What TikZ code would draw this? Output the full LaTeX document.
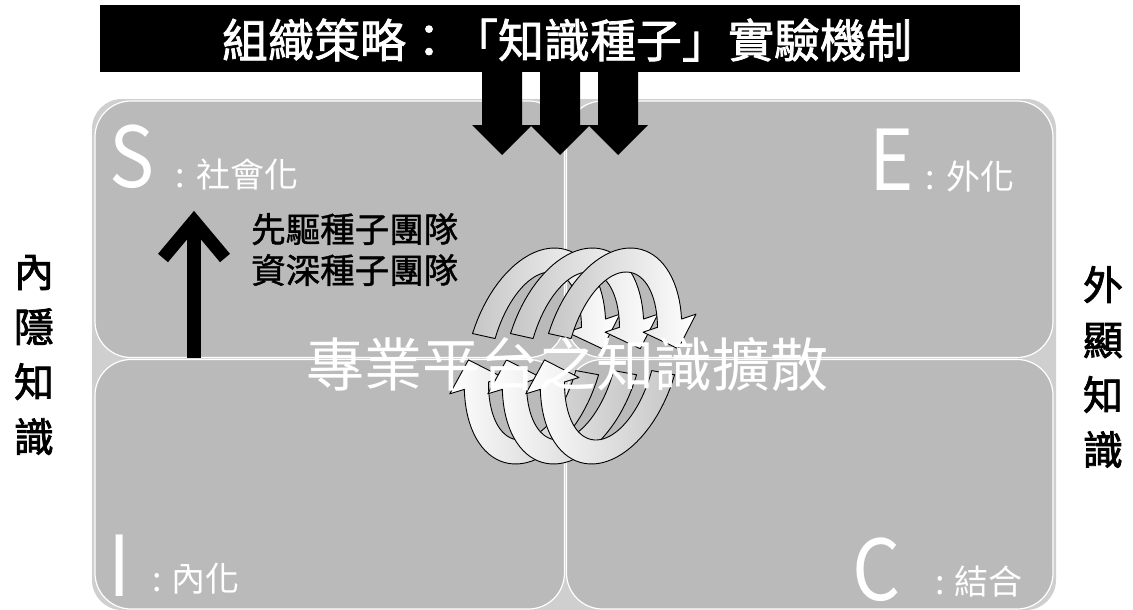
\documentclass[tikz,border=0pt]{standalone}
\usepackage{fontspec}
\setmainfont{Noto Sans CJK TC}
\newfontfamily\cjkb[FakeBold=2]{Noto Sans CJK TC}
\newfontfamily\cjkt[FakeBold=1.6]{Noto Sans CJK TC}
\newfontfamily\cjkm[FakeBold=1.2]{Noto Sans CJK TC}
\newfontfamily\cjkn[FakeStretch=0.9]{Noto Sans CJK TC}
\usetikzlibrary{calc}
\definecolor{quadgray}{HTML}{BABABA}
\definecolor{framegray}{HTML}{CFCFCF}
\definecolor{bandgray}{HTML}{C6C6C6}
\tikzset{
  quad/.style={fill=quadgray, draw=white, line width=1.2pt, rounded corners=36pt},
  bandline/.style={draw=black, line width=0.9pt, line join=round},
  bigletter/.style={anchor=base west, inner sep=0pt, text=white, font=\cjkn\fontsize{84}{84}\selectfont},
  qlabel/.style={anchor=base west, inner sep=0pt, text=white, font=\fontsize{34}{34}\selectfont},
  sidetext/.style={inner sep=0pt, align=center, text=black, font=\cjkb\fontsize{40}{55}\selectfont},
}
\newcommand\drawring[1]{%
  \def\ringcx{#1}%
  % upper band, clockwise over the top, head pointing down on the right
  \coordinate (uo) at ({\ringcx+68*cos(20)+0.18*108*sin(20)},{356-108*sin(20)});
  \coordinate (ui) at ({\ringcx+44*cos(20)+0.18*84*sin(20)},{356-84*sin(20)});
  \coordinate (um) at ($(uo)!0.5!(ui)$);
  \coordinate (uwo) at ($(uo)!-0.6!(ui)$);
  \coordinate (uwi) at ($(ui)!-0.6!(uo)$);
  \coordinate (ut) at ($(um)!27pt!-90:(uo)$);
  \shadedraw[bandline, left color=bandgray, middle color=bandgray, right color=white]
    plot[domain=168:20, samples=40] ({\ringcx+68*cos(\x)+0.18*108*sin(\x)},{356-108*sin(\x)})
    -- (uwo) -- (ut) -- (uwi)
    -- plot[domain=20:168, samples=40] ({\ringcx+44*cos(\x)+0.18*84*sin(\x)},{356-84*sin(\x)})
    -- cycle;
  % lower band, clockwise under the bottom, head pointing up on the left
  \coordinate (lo) at ({\ringcx+68*cos(-162)+0.18*108*sin(-162)},{356-108*sin(-162)});
  \coordinate (li) at ({\ringcx+44*cos(-162)+0.18*84*sin(-162)},{356-84*sin(-162)});
  \coordinate (lm) at ($(lo)!0.5!(li)$);
  \coordinate (lwo) at ($(lo)!-0.6!(li)$);
  \coordinate (lwi) at ($(li)!-0.6!(lo)$);
  \coordinate (lt) at ($(lm)!27pt!-90:(lo)$);
  \shadedraw[bandline, left color=white, middle color=white!50!bandgray, right color=bandgray]
    plot[domain=-10:-162, samples=40] ({\ringcx+68*cos(\x)+0.18*108*sin(\x)},{356-108*sin(\x)})
    -- (lwo) -- (lt) -- (lwi)
    -- plot[domain=-162:-10, samples=40] ({\ringcx+44*cos(\x)+0.18*84*sin(\x)},{356-84*sin(\x)})
    -- cycle;
}
\begin{document}
\begin{tikzpicture}[x=1pt,y=-1pt]
\useasboundingbox (0,0) rectangle (1133,610);
\fill[white] (0,0) rectangle (1133,610);

% frame and quadrants
\fill[framegray, rounded corners=30pt] (92,99) rectangle (1056,610);
\path[quad] (95,101) rectangle (564.5,357.5);
\path[quad] (566.5,101) rectangle (1053,357.5);
\path[quad] (95,359.5) rectangle (564.5,609);
\path[quad] (566.5,359.5) rectangle (1053,609);

% title bar and down arrows
\node[fill=black, minimum width=920pt, minimum height=67pt, inner sep=0pt] (bar) at (560,38.5) {};
\node[text=white, inner sep=0pt, font=\cjkt\fontsize{46}{46}\selectfont] (title) at (567,40) {組織策略：「知識種子」實驗機制};
\foreach \c in {502,560,618}{
  \fill[black] (\c-20,71) -- (\c+20,71) -- (\c+20,125) -- (\c+30,125) -- (\c,155)
    -- (\c-30,125) -- (\c-20,125) -- cycle;
}

% quadrant labels
\node[bigletter] (S) at (109,187) {S};
\node[qlabel] (Sl) at (175,187) {:\hspace{12pt}社會化};
\node[bigletter] (E) at (869,190) {E};
\node[qlabel] (El) at (925,189) {:\hspace{12pt}外化};
\node[bigletter] (I) at (108,596) {I};
\node[qlabel] (Il) at (152,591) {:\hspace{10pt}內化};
\node[bigletter] (C) at (852,600) {C};
\node[qlabel] (Cl) at (935,594) {:\hspace{10pt}結合};

% up arrow and teams
\coordinate (ua0) at (194,358);
\coordinate (ua1) at (194,226);
\coordinate (uh) at (194,221);
\draw[line width=14pt] (ua0) -- (ua1);
\draw[line width=13pt, line join=miter, miter limit=10] ($(uh)+(-31,37)$) -- (uh) -- ($(uh)+(31,37)$);
\node[anchor=north west, inner sep=0pt, align=left, font=\cjkm\fontsize{34.5}{41}\selectfont] (teams) at (251,213) {先驅種子團隊\\資深種子團隊};

% rings
\drawring{535}
\drawring{573}
\drawring{611}

% centre text
\node[text=white, inner sep=0pt, font=\fontsize{58}{58}\selectfont] (centre) at (567,365) {專業平台之知識擴散};

% side texts
\node[sidetext] (left) at (34,355) {內\\隱\\知\\識};
\node[sidetext] (right) at (1103,367) {外\\顯\\知\\識};
\end{tikzpicture}
\end{document}
